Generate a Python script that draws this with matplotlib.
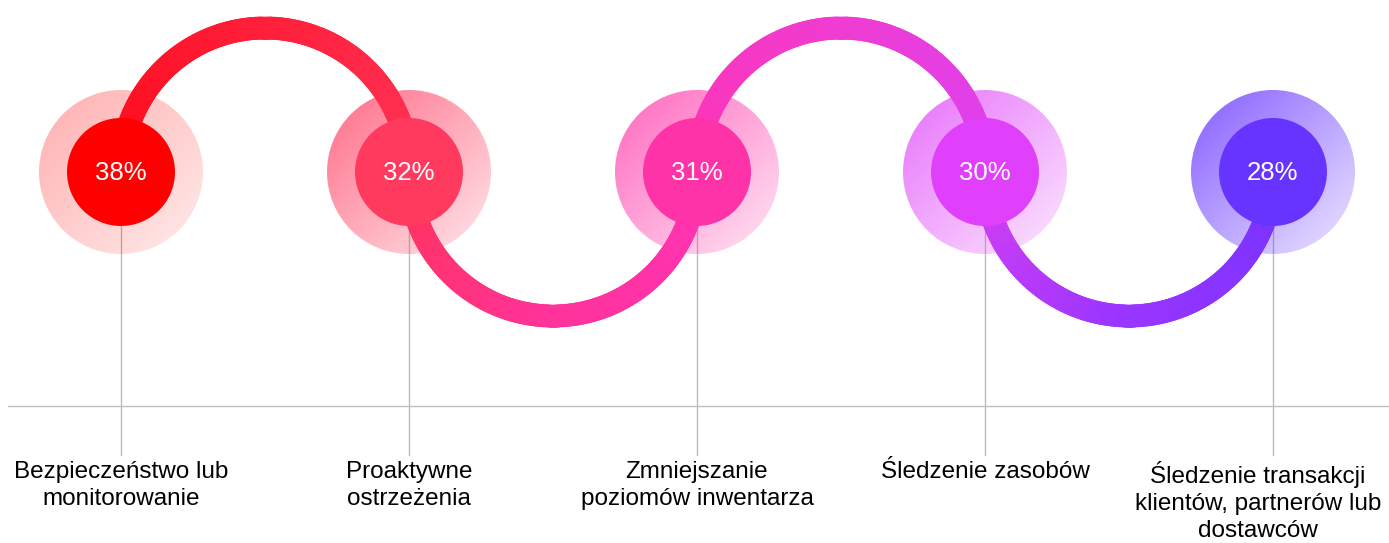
import numpy as np
import matplotlib
matplotlib.use("Agg")
import matplotlib.pyplot as plt
from matplotlib.patches import Circle
from matplotlib.collections import LineCollection
from matplotlib.colors import LinearSegmentedColormap, to_rgb

# --- data ---
values = [38, 32, 31, 30, 28]
labels = [
    "Bezpieczeństwo lub\nmonitorowanie",
    "Proaktywne\nostrzeżenia",
    "Zmniejszanie\npoziomów inwentarza",
    "Śledzenie zasobów",
    "Śledzenie transakcji\nklientów, partnerów lub\ndostawców",
]
circle_colors = ["#FF0000", "#FF3A5E", "#FF33A8", "#E040FB", "#6633FF"]
halo_alpha = [(0.32, 0.08), (0.75, 0.12), (0.75, 0.12), (0.75, 0.12), (0.8, 0.12)]
path_colors = ["#FF0A1A", "#FF1F3A", "#FF3355", "#FF3399", "#FF33B5",
               "#F03CD0", "#DD40F0", "#9B35FF", "#7733FF"]

plt.rcParams["font.family"] = ["Liberation Sans", "DejaVu Sans"]

W, H = 1389, 543
fig = plt.figure(figsize=(W / 100, H / 100), dpi=100)
ax = fig.add_axes([0, 0, 1, 1])
ax.set_xlim(0, W)
ax.set_ylim(H, 0)
ax.axis("off")

xs = np.linspace(121, 1273, len(values))
cy = 172
r_out, r_in = 82, 54
label_dx = [0, 0, 0, 0, -15]  # last label nudged left so it fits

# baseline and leader lines
ax.plot([8, W], [406, 406], color="#BFBFBF", lw=1, zorder=1)
for x in xs:
    ax.plot([x, x], [cy, 455], color="#BBBBBB", lw=1, zorder=1)

# halos with diagonal gradient
n = 200
gx, gy = np.meshgrid(np.linspace(-1, 1, n), np.linspace(-1, 1, n))
g = np.clip((gx + gy) / 2.0 * 0.5 + 0.5, 0, 1)  # 0 top-left, 1 bottom-right
for x, c, (a0, a1) in zip(xs, circle_colors, halo_alpha):
    img = np.zeros((n, n, 4))
    img[..., :3] = to_rgb(c)
    img[..., 3] = a0 + (a1 - a0) * g
    im = ax.imshow(img, extent=[x - r_out, x + r_out, cy + r_out, cy - r_out],
                   zorder=2, interpolation="bilinear")
    clip = Circle((x, cy), r_out, transform=ax.transData)
    im.set_clip_path(clip)

# wavy connector with colour gradient
cmap = LinearSegmentedColormap.from_list("path", path_colors)
pts = []
for i in range(len(xs) - 1):
    mx = (xs[i] + xs[i + 1]) / 2
    r = (xs[i + 1] - xs[i]) / 2
    th = np.linspace(np.pi, 0, 120)
    sign = -1 if i % 2 == 0 else 1
    px = mx + r * np.cos(th)
    py = cy + sign * r * np.sin(th)
    pts.append(np.column_stack([px, py]))
pts = np.vstack(pts)
segs = np.stack([pts[:-1], pts[1:]], axis=1)
t = np.linspace(0, 1, len(segs))
lc = LineCollection(segs, colors=cmap(t), linewidths=16.5, capstyle="round", zorder=3)
ax.add_collection(lc)

# inner circles and values
for x, v, c in zip(xs, values, circle_colors):
    ax.add_patch(Circle((x, cy), r_in, color=c, zorder=4, lw=0))
    ax.text(x, cy + 1, f"{v}%", color="white", fontsize=18.5,
            ha="center", va="center", zorder=5)

# category labels
for x, dx, lab in zip(xs, label_dx, labels):
    ax.text(x + dx, 461, lab, fontsize=17.5, ha="center", va="top",
            linespacing=1.3, color="black")

fig.savefig("out.png", dpi=100)
